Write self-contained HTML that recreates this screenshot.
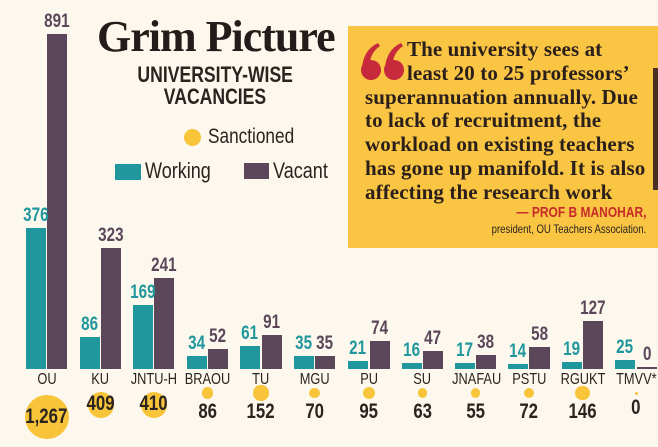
<!DOCTYPE html>
<html><head><meta charset="utf-8"><style>
body{margin:0;background:#fcf8ee;}
#c{position:relative;width:658px;height:447px;overflow:hidden;background:#fcf8ee;font-family:"Liberation Sans",sans-serif;}
.a{position:absolute;}
.bar{position:absolute;}
.w{background:#1f979d}.v{background:#5b4759}
.cd{display:inline-block;transform:scaleX(0.8);transform-origin:center;white-space:nowrap;}
.cl{display:inline-block;transform:scaleX(0.82);transform-origin:left;white-space:nowrap;}
.n{position:absolute;font-weight:bold;font-size:19px;text-align:center;width:40px;}
.lab{position:absolute;top:371px;font-size:16px;color:#2a2320;width:60px;text-align:center;}
.dot{position:absolute;border-radius:50%;background:#f8c53a;}
.s{position:absolute;font-weight:bold;font-size:21px;color:#2a2320;width:60px;text-align:center;}
.q{font-family:"Liberation Serif",serif;font-weight:bold;font-size:21px;color:#2a1f1a;line-height:23.8px;letter-spacing:0.1px;white-space:nowrap;}
</style></head><body><div id="c">
<div class="a" style="left:97px;top:12px;font-family:'Liberation Serif',serif;font-weight:bold;font-size:44px;color:#231c1a;letter-spacing:-1px;line-height:50px">Grim Picture</div>
<div class="a" style="left:115px;top:64px;width:200px;text-align:center;font-weight:bold;font-size:22px;line-height:22px;color:#2a2320"><span class="cd">UNIVERSITY-WISE</span><br><span class="cd">VACANCIES</span></div>
<div class="dot" style="left:184px;top:129px;width:17px;height:17px"></div>
<div class="a" style="left:208px;top:125px;font-size:21px;color:#2a2320"><span class="cl">Sanctioned</span></div>
<div class="a w" style="left:115px;top:164px;width:26px;height:16px"></div>
<div class="a" style="left:145px;top:158px;font-size:22px;color:#2a2320"><span class="cl">Working</span></div>
<div class="a v" style="left:244px;top:163px;width:25px;height:16px"></div>
<div class="a" style="left:273px;top:158px;font-size:22px;color:#2a2320"><span class="cl">Vacant</span></div>

<div class="a" style="left:348px;top:26px;width:310px;height:222px;background:#f9c543"></div>
<div class="a" style="left:653px;top:68px;width:5px;height:122px;background:#4a2e22"></div>
<svg class="a" style="left:360px;top:42px" width="46" height="40" viewBox="0 0 46 40">
<g fill="#c72a3a"><circle cx="11" cy="28" r="10"/><path d="M2 27 Q3 8 18 1 L20 4 Q10 11 10 22 Z"/>
<circle cx="34" cy="28" r="10"/><path d="M25 27 Q26 8 41 1 L43 4 Q33 11 33 22 Z"/></g></svg>
<div class="a q" style="left:407px;top:38px">The university sees at<br>least 20 to 25 professors’</div>
<div class="a q" style="left:365px;top:85.6px">superannuation annually. Due<br>to lack of recruitment, the<br>workload on existing teachers<br>has gone up manifold. It is also<br>affecting the research work</div>
<div class="a" style="right:12px;top:204px;font-weight:bold;font-size:15px;color:#c72a2a;text-align:right"><span class="cd" style="transform-origin:right">— PROF B MANOHAR,</span></div>
<div class="a" style="right:12px;top:222px;font-size:12px;color:#2a2320;text-align:right"><span class="cd" style="transform-origin:right">president, OU Teachers Association.</span></div>

<div id="bars"></div>
</div>
<script>
var d=[["OU",26,20,47,20,376,891,1267],["KU",80,20,101,20,86,323,409],["JNTU-H",133,20,154,20,169,241,410],["BRAOU",187,20,208,20,34,52,86],["TU",240,20,262,20,61,91,152],["MGU",294,20,315,20,35,35,70],["PU",348,20,370,20,21,74,95],["SU",402,20,423,20,16,47,63],["JNAFAU",455,20,476,20,17,38,55],["PSTU",508,20,529,21,14,58,72],["RGUKT",562,20,583,20,19,127,146],["TMVV*",615,20,637,20,25,0,0]];
var h="",B=369,k=0.376;
d.forEach(function(r){var wh=r[5]*k,vh=Math.max(r[6]*k,2);
h+='<div class="bar w" style="left:'+r[1]+'px;top:'+(B-wh)+'px;width:'+r[2]+'px;height:'+wh+'px"></div>';
h+='<div class="bar v" style="left:'+r[3]+'px;top:'+(B-vh)+'px;width:'+r[4]+'px;height:'+vh+'px"></div>';
h+='<div class="n" style="color:#1f979d;left:'+(r[1]+r[2]/2-20)+'px;top:'+(B-wh-23)+'px"><span class="cd">'+r[5]+'</span></div>';
h+='<div class="n" style="color:#5b4759;left:'+(r[3]+r[4]/2-20)+'px;top:'+(B-vh-23)+'px"><span class="cd">'+r[6]+'</span></div>';
var cx=(r[1]+r[3]+r[4])/2;
h+='<div class="lab" style="left:'+(cx-30)+'px"><span class="cd">'+r[0]+'</span></div>';
var s=r[7],rad=s>0?Math.sqrt(s)*0.62:1.5,cy=s>1000?417:(s>300?405:393);
if(s>300){rad=s>1000?22:13;}
h+='<div class="dot" style="left:'+(cx-rad)+'px;top:'+(cy-rad)+'px;width:'+2*rad+'px;height:'+2*rad+'px"></div>';
var ty=s>1000?405:(s>300?392:400);
if(r[0]=="TMVV*")ty=396;
h+='<div class="s" style="left:'+(cx-30)+'px;top:'+ty+'px"><span class="cd">'+(s==1267?"1,267":s)+'</span></div>';
});
document.getElementById("bars").innerHTML=h;
</script>
</body></html>
